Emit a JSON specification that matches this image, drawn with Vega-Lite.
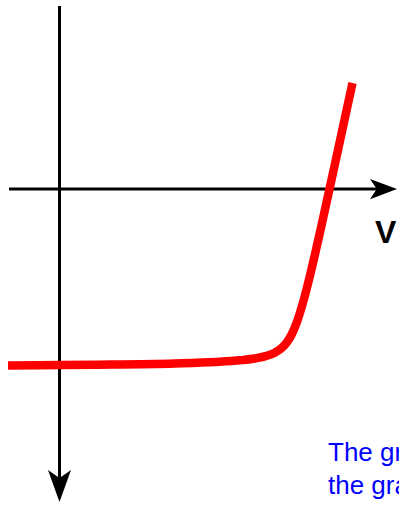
{
  "$schema": "https://vega.github.io/schema/vega-lite/v6.json",
  "width": 399,
  "height": 505,
  "autosize": {"type": "none"},
  "padding": 0,
  "background": "white",
  "config": {"view": {"stroke": null}},
  "datasets": {
    "curve": [
      {"V": -5.15, "I": -17.66},
      {"V": 0.05, "I": -17.61},
      {"V": 3.5, "I": -17.57},
      {"V": 11.53, "I": -17.44},
      {"V": 15.56, "I": -17.3},
      {"V": 18.09, "I": -17.13},
      {"V": 19.64, "I": -16.93},
      {"V": 20.69, "I": -16.69},
      {"V": 21.56, "I": -16.35},
      {"V": 22.26, "I": -15.87},
      {"V": 22.78, "I": -15.28},
      {"V": 23.24, "I": -14.5},
      {"V": 23.74, "I": -13.3},
      {"V": 24.34, "I": -11.39},
      {"V": 25.14, "I": -8.27},
      {"V": 26.21, "I": -3.6},
      {"V": 28.24, "I": 5.71},
      {"V": 29.3, "I": 10.6}
    ],
    "hAxis": [{"V1": -5.05, "V2": 32.0, "I": 0}],
    "vAxis": [{"V": 0, "I1": 18.3, "I2": -29.5}],
    "hArrow": [{"V": 32.4, "I": 0}],
    "vArrow": [{"V": 0, "I": -29.7}],
    "vLabel": [{"V": 31.55, "I": -5.4, "label": "V"}],
    "note": [
      {"V": 26.85, "I": -27.2, "label": "The graph of"},
      {"V": 26.85, "I": -30.5, "label": "the graph"}
    ]
  },
  "layer": [
    {
      "data": {"name": "hAxis"},
      "mark": {"type": "rule", "color": "black", "strokeWidth": 3},
      "encoding": {
        "x": {"field": "V1", "type": "quantitative", "scale": {"domain": [-5.95, 33.95], "nice": false, "zero": false}, "axis": null},
        "x2": {"field": "V2"},
        "y": {"field": "I", "type": "quantitative", "scale": {"domain": [-31.6, 18.9], "nice": false, "zero": false}, "axis": null}
      }
    },
    {
      "data": {"name": "vAxis"},
      "mark": {"type": "rule", "color": "black", "strokeWidth": 3},
      "encoding": {
        "x": {"field": "V", "type": "quantitative"},
        "y": {"field": "I1", "type": "quantitative"},
        "y2": {"field": "I2"}
      }
    },
    {
      "data": {"name": "hArrow"},
      "mark": {"type": "point", "shape": "M1,0 L-1,-0.75 L-0.5,0 L-1,0.75 Z", "filled": true, "color": "black", "opacity": 1, "size": 729},
      "encoding": {
        "x": {"field": "V", "type": "quantitative"},
        "y": {"field": "I", "type": "quantitative"}
      }
    },
    {
      "data": {"name": "vArrow"},
      "mark": {"type": "point", "shape": "M0,1 L-0.72,-1 L0,-0.5 L0.72,-1 Z", "filled": true, "color": "black", "opacity": 1, "size": 1024},
      "encoding": {
        "x": {"field": "V", "type": "quantitative"},
        "y": {"field": "I", "type": "quantitative"}
      }
    },
    {
      "data": {"name": "curve"},
      "mark": {"type": "line", "color": "#ff0000", "strokeWidth": 8.5, "interpolate": "monotone", "strokeCap": "butt"},
      "encoding": {
        "x": {"field": "V", "type": "quantitative"},
        "y": {"field": "I", "type": "quantitative"}
      }
    },
    {
      "data": {"name": "vLabel"},
      "mark": {"type": "text", "align": "left", "baseline": "alphabetic", "font": "Liberation Sans", "fontWeight": "bold", "fontSize": 32, "color": "black"},
      "encoding": {
        "x": {"field": "V", "type": "quantitative"},
        "y": {"field": "I", "type": "quantitative"},
        "text": {"field": "label"}
      }
    },
    {
      "data": {"name": "note"},
      "mark": {"type": "text", "align": "left", "baseline": "alphabetic", "font": "Liberation Sans", "fontSize": 26, "color": "#0000ff"},
      "encoding": {
        "x": {"field": "V", "type": "quantitative"},
        "y": {"field": "I", "type": "quantitative"},
        "text": {"field": "label"}
      }
    }
  ]
}
